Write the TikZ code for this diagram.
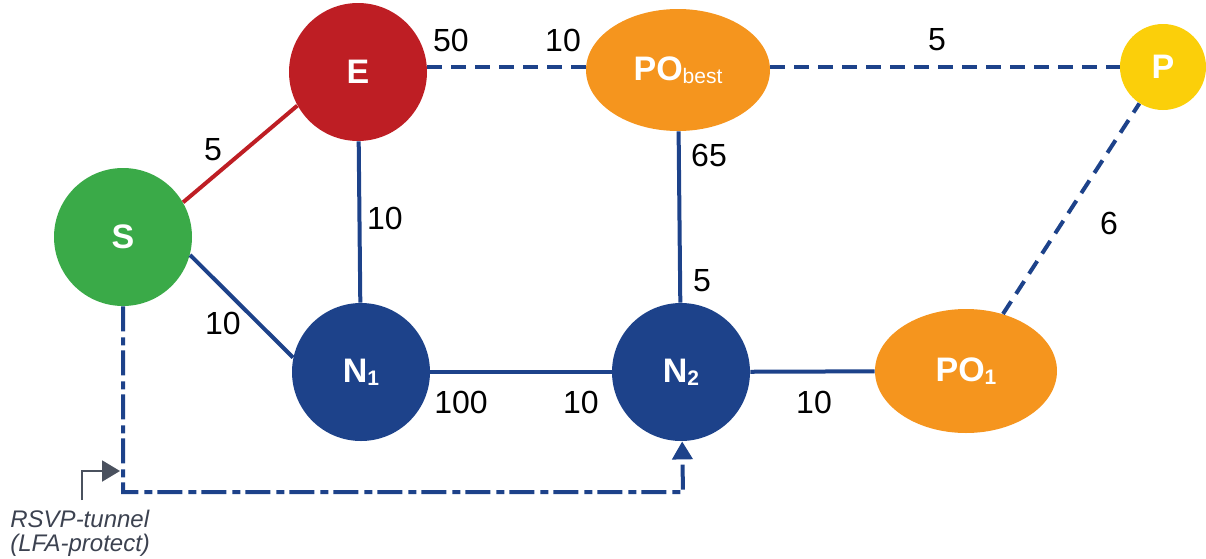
\documentclass[tikz,border=0pt]{standalone}
\usepackage{fontspec}
\setmainfont{Liberation Sans}
\usetikzlibrary{arrows.meta,shapes.geometric}
\definecolor{nblue}{RGB}{29,66,138}
\definecolor{nred}{RGB}{190,30,36}
\definecolor{ngreen}{RGB}{58,170,72}
\definecolor{norange}{RGB}{245,149,30}
\definecolor{nyellow}{RGB}{251,207,10}
\definecolor{ngray}{RGB}{74,81,94}
\definecolor{tgray}{RGB}{60,66,80}
\newcommand\subtxt[1]{{\fontsize{10.5}{10.5}\selectfont\raisebox{-1.5pt}{#1}}}
\newcommand\subreg[1]{{\fontsize{10.5}{10.5}\selectfont\mdseries\raisebox{-1.5pt}{#1}}}
\tikzset{
  netnode/.style={circle, inner sep=0pt, minimum size=69pt, text=white,
    font=\fontsize{17}{17}\selectfont\bfseries},
  ovalnode/.style={ellipse, inner sep=0pt, text=white,
    font=\fontsize{17}{17}\selectfont\bfseries},
  wt/.style={inner sep=0pt, font=\fontsize{16}{16}\selectfont, text=black},
  solidlink/.style={draw=nblue, line width=2pt},
  dashlink/.style={draw=nblue, line width=2pt, dash pattern=on 7.5pt off 4.5pt},
  tunnel/.style={draw=nblue, line width=2pt, dash pattern=on 12.5pt off 3pt on 4pt off 2.5pt,
    -{Triangle[length=9pt,width=10pt]}},
  callout/.style={draw=ngray, line width=1pt, -{Triangle[length=9pt,width=10.5pt]}},
  note/.style={inner sep=0pt, anchor=base west, text=tgray,
    font=\fontsize{12}{13}\selectfont\itshape}
}
\begin{document}
\begin{tikzpicture}[x=0.5pt,y=-0.5pt]
\useasboundingbox (0,0) rectangle (1206,558);
% nodes
\node[netnode, fill=ngreen] (S) at (123,237) {S};
\node[netnode, fill=nred] (E) at (358,72) {E};
\node[netnode, fill=nblue] (N1) at (361,372) {N\subtxt{1}};
\node[netnode, fill=nblue] (N2) at (681,372) {N\subtxt{2}};
\node[ovalnode, fill=norange, minimum width=92pt, minimum height=61pt] (PObest) at (678,70) {PO\subreg{best}};
\node[ovalnode, fill=norange, minimum width=91pt, minimum height=62pt] (PO1) at (966,371) {PO\subtxt{1}};
\node[netnode, fill=nyellow, minimum size=43pt] (P) at (1163,67) {P};
% links
\draw[draw=nred, line width=2pt] (S.30) -- (E.209);
\draw[solidlink] (E) -- (N1);
\draw[solidlink] (S.-15) -- (N1.168);
\draw[solidlink] (N1) -- (N2);
\draw[solidlink] (N2) -- (PO1);
\draw[solidlink] (PObest) -- (N2);
\draw[dashlink] (E.east |- P.west) -- (PObest.west |- P.west);
\draw[dashlink] (PObest.east |- P.west) -- (P.west);
\draw[dashlink] (PO1) -- (P);
% tunnel
\coordinate (tl) at (123,492);
\coordinate (tr) at (683,492);
\draw[tunnel] (S) -- (tl) -- (tr) -- (N2);
% callout
\coordinate (c0) at (82,500);
\coordinate (c1) at (82,471);
\coordinate (c2) at (120,471);
\draw[callout] (c0) -- (c1) -- (c2);
\node[note] (rsvp1) at (10,527) {RSVP-tunnel};
\node[note] (rsvp2) at (10,551) {(LFA-protect)};
% weights
\node[wt] (w1) at (213,150) {5};
\node[wt] (w2) at (451,40) {50};
\node[wt] (w3) at (563,40) {10};
\node[wt] (w4) at (937,40) {5};
\node[wt] (w5) at (385,218) {10};
\node[wt] (w6) at (223,323) {10};
\node[wt] (w7) at (709,155) {65};
\node[wt] (w8) at (702,281) {5};
\node[wt] (w9) at (1109,223) {6};
\node[wt] (w10) at (461,402) {100};
\node[wt] (w11) at (581,402) {10};
\node[wt] (w12) at (814,402) {10};
\end{tikzpicture}
\end{document}
